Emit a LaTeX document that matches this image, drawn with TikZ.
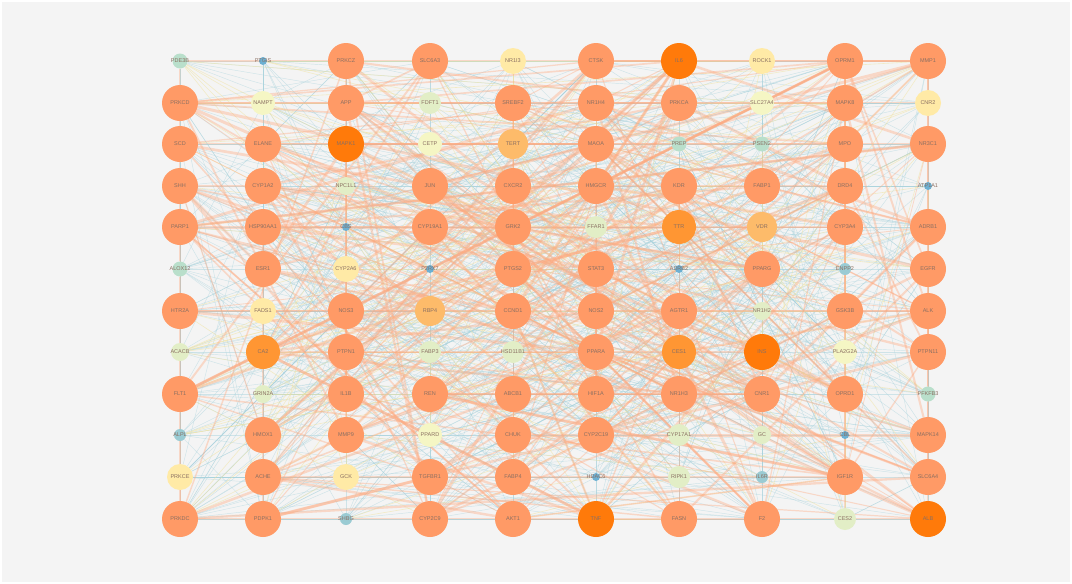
\documentclass[tikz,border=0pt]{standalone}
\usepackage{fontspec}
\setmainfont{Liberation Sans}
\pgfdeclarelayer{back}
\pgfdeclarelayer{bg}
\pgfsetlayers{back,bg,main}
\definecolor{bgc}{HTML}{F4F4F4}
\definecolor{cbig}{HTML}{FF9A66}
\definecolor{cdeep}{HTML}{FF7A0A}
\definecolor{cmor}{HTML}{FF9633}
\definecolor{clor}{HTML}{FDBB6A}
\definecolor{cyel}{HTML}{FFEAA6}
\definecolor{clye}{HTML}{F5F6C4}
\definecolor{clgr}{HTML}{E2EEC6}
\definecolor{cgte}{HTML}{B9DFCB}
\definecolor{ctbl}{HTML}{9ACBD3}
\definecolor{cblu}{HTML}{6CB0D2}
\definecolor{eor}{HTML}{FFAA80}
\definecolor{ebl}{HTML}{A9D3DD}
\definecolor{eye}{HTML}{F0E3A0}
\definecolor{txt}{HTML}{8A6F62}
\tikzset{
  nd/.style={circle, inner sep=0pt, draw=none},
  lbl/.style={font=\fontsize{5.5}{6}\selectfont, text=txt, inner sep=0pt},
  B/.style={nd, fill=cbig, minimum size=36pt},
  D/.style={nd, fill=cdeep, minimum size=36pt},
  M/.style={nd, fill=cmor, minimum size=34pt},
  L/.style={nd, fill=clor, minimum size=30pt},
  Y/.style={nd, fill=cyel, minimum size=26pt},
  LY/.style={nd, fill=clye, minimum size=24pt},
  G/.style={nd, fill=clgr, minimum size=22pt},
  Gs/.style={nd, fill=clgr, minimum size=18pt},
  GT/.style={nd, fill=cgte, minimum size=15pt},
  T/.style={nd, fill=ctbl, minimum size=12pt},
  S/.style={nd, fill=cblu, minimum size=8pt},
  eb/.style={draw=ebl, line width=0.45pt, opacity=0.5},
  ey/.style={draw=eye, line width=0.6pt, opacity=0.55},
  eo/.style={draw=eor, opacity=0.38},
}
\newcommand\Nd[5]{\node[#4, label={[lbl]center:#5}] (n#1) at (#2,#3) {};}
\begin{document}
\begin{tikzpicture}[x=1pt,y=-1pt]
\useasboundingbox (0,0) rectangle (1072,584);
\begin{pgfonlayer}{back}
\fill[white] (0,0) rectangle (1072,584);
\fill[bgc] (2,2) rectangle (1070,582);
\end{pgfonlayer}
% column 1
\Nd{1}{180}{61}{GT}{PDE3B}
\Nd{2}{180}{103}{B}{PRKCD}
\Nd{3}{180}{144}{B}{SCD}
\Nd{4}{180}{186}{B}{SHH}
\Nd{5}{180}{227}{B}{PARP1}
\Nd{6}{180}{269}{GT}{ALOX12}
\Nd{7}{180}{311}{B}{HTR2A}
\Nd{8}{180}{352}{Gs}{ACACB}
\Nd{9}{180}{394}{B}{FLT1}
\Nd{10}{180}{435}{T}{ALPL}
\Nd{11}{180}{477}{Y}{PRKCE}
\Nd{12}{180}{519}{B}{PRKDC}
% column 2
\Nd{13}{263}{61}{S}{PTGIS}
\Nd{14}{263}{103}{LY}{NAMPT}
\Nd{15}{263}{144}{B}{ELANE}
\Nd{16}{263}{186}{B}{CYP1A2}
\Nd{17}{263}{227}{B}{HSP90AA1}
\Nd{18}{263}{269}{B}{ESR1}
\Nd{19}{263}{311}{Y}{FADS1}
\Nd{20}{263}{352}{M}{CA2}
\Nd{21}{263}{394}{Gs}{GRIN2A}
\Nd{22}{263}{435}{B}{HMOX1}
\Nd{23}{263}{477}{B}{ACHE}
\Nd{24}{263}{519}{B}{PDPK1}
% column 3
\Nd{25}{346}{61}{B}{PRKCZ}
\Nd{26}{346}{103}{B}{APP}
\Nd{27}{346}{144}{D}{MAPK1}
\Nd{28}{346}{186}{Gs}{NPC1L1}
\Nd{29}{346}{227}{S}{CBS}
\Nd{30}{346}{269}{Y}{CYP2A6}
\Nd{31}{346}{311}{B}{NOS3}
\Nd{32}{346}{352}{B}{PTPN1}
\Nd{33}{346}{394}{B}{IL1B}
\Nd{34}{346}{435}{B}{MMP9}
\Nd{35}{346}{477}{Y}{GCK}
\Nd{36}{346}{519}{T}{SHBG}
% column 4
\Nd{37}{430}{61}{B}{SLC6A3}
\Nd{38}{430}{103}{G}{FDFT1}
\Nd{39}{430}{144}{LY}{CETP}
\Nd{40}{430}{186}{B}{JUN}
\Nd{41}{430}{227}{B}{CYP19A1}
\Nd{42}{430}{269}{S}{P2RX7}
\Nd{43}{430}{311}{L}{RBP4}
\Nd{44}{430}{352}{G}{FABP3}
\Nd{45}{430}{394}{B}{REN}
\Nd{46}{430}{435}{LY}{PPARD}
\Nd{47}{430}{477}{B}{TGFBR1}
\Nd{48}{430}{519}{B}{CYP2C9}
% column 5
\Nd{49}{513}{61}{Y}{NR1I3}
\Nd{50}{513}{103}{B}{SREBF2}
\Nd{51}{513}{144}{L}{TERT}
\Nd{52}{513}{186}{B}{CXCR2}
\Nd{53}{513}{227}{B}{GRK2}
\Nd{54}{513}{269}{B}{PTGS2}
\Nd{55}{513}{311}{B}{CCND1}
\Nd{56}{513}{352}{G}{HSD11B1}
\Nd{57}{513}{394}{B}{ABCB1}
\Nd{58}{513}{435}{B}{CHUK}
\Nd{59}{513}{477}{B}{FABP4}
\Nd{60}{513}{519}{B}{AKT1}
% column 6
\Nd{61}{596}{61}{B}{CTSK}
\Nd{62}{596}{103}{B}{NR1H4}
\Nd{63}{596}{144}{B}{MAOA}
\Nd{64}{596}{186}{B}{HMGCR}
\Nd{65}{596}{227}{G}{FFAR1}
\Nd{66}{596}{269}{B}{STAT3}
\Nd{67}{596}{311}{B}{NOS2}
\Nd{68}{596}{352}{B}{PPARA}
\Nd{69}{596}{394}{B}{HIF1A}
\Nd{70}{596}{435}{B}{CYP2C19}
\Nd{71}{596}{477}{S}{HDAC6}
\Nd{72}{596}{519}{D}{TNF}
% column 7
\Nd{73}{679}{61}{D}{IL6}
\Nd{74}{679}{103}{B}{PRKCA}
\Nd{75}{679}{144}{GT}{PREP}
\Nd{76}{679}{186}{B}{KDR}
\Nd{77}{679}{227}{M}{TTR}
\Nd{78}{679}{269}{S}{ADRB2}
\Nd{79}{679}{311}{B}{AGTR1}
\Nd{80}{679}{352}{M}{CES1}
\Nd{81}{679}{394}{B}{NR1H3}
\Nd{82}{679}{435}{G}{CYP17A1}
\Nd{83}{679}{477}{G}{RIPK1}
\Nd{84}{679}{519}{B}{FASN}
% column 8
\Nd{85}{762}{61}{Y}{ROCK1}
\Nd{86}{762}{103}{LY}{SLC27A4}
\Nd{87}{762}{144}{GT}{PSEN2}
\Nd{88}{762}{186}{B}{FABP1}
\Nd{89}{762}{227}{L}{VDR}
\Nd{90}{762}{269}{B}{PPARG}
\Nd{91}{762}{311}{Gs}{NR1H2}
\Nd{92}{762}{352}{D}{INS}
\Nd{93}{762}{394}{B}{CNR1}
\Nd{94}{762}{435}{Gs}{GC}
\Nd{95}{762}{477}{T}{IL6R}
\Nd{96}{762}{519}{B}{F2}
% column 9
\Nd{97}{845}{61}{B}{OPRM1}
\Nd{98}{845}{103}{B}{MAPK8}
\Nd{99}{845}{144}{B}{MPO}
\Nd{100}{845}{186}{B}{DRD4}
\Nd{101}{845}{227}{B}{CYP3A4}
\Nd{102}{845}{269}{T}{ENPP2}
\Nd{103}{845}{311}{B}{GSK3B}
\Nd{104}{845}{352}{LY}{PLA2G2A}
\Nd{105}{845}{394}{B}{OPRD1}
\Nd{106}{845}{435}{S}{CBL}
\Nd{107}{845}{477}{B}{IGF1R}
\Nd{108}{845}{519}{G}{CES2}
% column 10
\Nd{109}{928}{61}{B}{MMP1}
\Nd{110}{928}{103}{Y}{CNR2}
\Nd{111}{928}{144}{B}{NR3C1}
\Nd{112}{928}{186}{S}{ATP1A1}
\Nd{113}{928}{227}{B}{ADRB1}
\Nd{114}{928}{269}{B}{EGFR}
\Nd{115}{928}{311}{B}{ALK}
\Nd{116}{928}{352}{B}{PTPN11}
\Nd{117}{928}{394}{GT}{PFKFB3}
\Nd{118}{928}{435}{B}{MAPK14}
\Nd{119}{928}{477}{B}{SLC6A4}
\Nd{120}{928}{519}{D}{ALB}
\def\biglist{{2,3,4,5,7,9,12,15,16,17,18,20,22,23,24,25,26,27,31,32,33,34,37,40,41,45,47,48,50,52,53,54,55,57,58,59,60,61,62,63,64,66,67,68,69,70,72,73,74,76,77,79,80,81,84,88,90,92,93,96,97,98,99,100,101,103,105,107,109,111,113,114,115,116,118,119,120}}
\pgfmathsetseed{4242}
\begin{pgfonlayer}{bg}
% column chains
\foreach \c in {0,...,9}{
  \foreach \r in {1,...,11}{
    \pgfmathtruncatemacro\a{\c*12+\r}
    \pgfmathtruncatemacro\b{\a+1}
    \draw[eb] (n\a) -- (n\b);
  }
}
\foreach \c in {0,8,9}{
  \foreach \r in {1,...,11}{
    \pgfmathtruncatemacro\a{\c*12+\r}
    \pgfmathtruncatemacro\b{\a+1}
    \draw[eo, line width=1.8pt] (n\a) -- (n\b);
  }
}
% row chains
\foreach \r in {1,...,12}{
  \foreach \c in {0,...,8}{
    \pgfmathtruncatemacro\a{\c*12+\r}
    \pgfmathtruncatemacro\b{\a+12}
    \draw[eb] (n\a) -- (n\b);
  }
}
\foreach \r in {1,2,3,7,12}{
  \foreach \c in {0,...,8}{
    \pgfmathtruncatemacro\a{\c*12+\r}
    \pgfmathtruncatemacro\b{\a+12}
    \draw[eo, line width=2pt] (n\a) -- (n\b);
  }
}
% random thin edges
\foreach \k in {1,...,700}{
  \pgfmathrandominteger{\a}{1}{120}
  \pgfmathrandominteger{\b}{1}{120}
  \ifnum\a=\b\relax\else\draw[eb] (n\a) -- (n\b);\fi
}
\foreach \k in {1,...,160}{
  \pgfmathrandominteger{\a}{1}{120}
  \pgfmathrandominteger{\b}{1}{120}
  \ifnum\a=\b\relax\else\draw[ey] (n\a) -- (n\b);\fi
}
% random orange edges among hubs
\foreach \k in {1,...,270}{
  \pgfmathrandominteger{\i}{0}{76}
  \pgfmathrandominteger{\j}{0}{76}
  \pgfmathtruncatemacro\a{\biglist[\i]}
  \pgfmathtruncatemacro\b{\biglist[\j]}
  \pgfmathsetmacro\w{0.7+2.3*rnd}
  \ifnum\a=\b\relax\else\draw[eo, line width=\w pt] (n\a) -- (n\b);\fi
}
\end{pgfonlayer}
\end{tikzpicture}
\end{document}
